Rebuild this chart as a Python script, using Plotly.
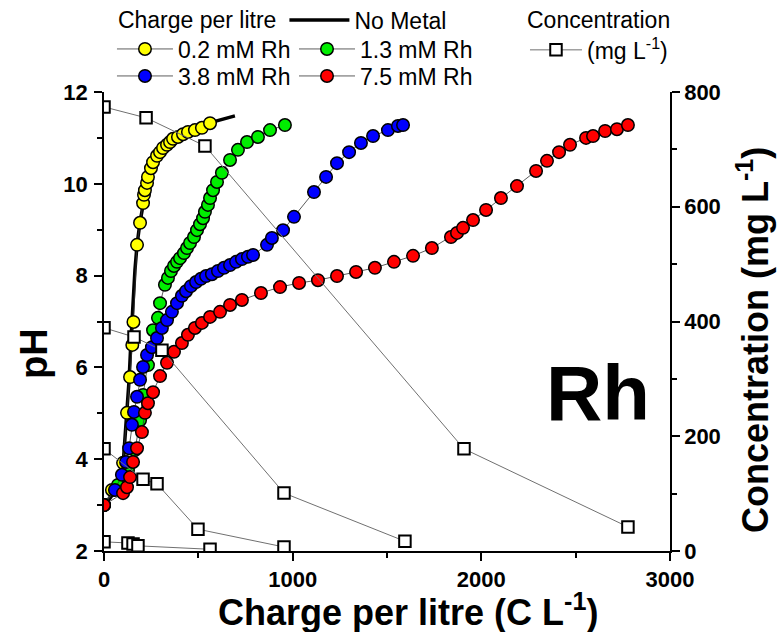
import plotly.graph_objects as go

# ---------------- data ----------------
no_metal_x = [0, 32, 64, 85, 101, 111, 122, 133, 143, 154, 164, 175, 191, 212, 244, 297, 376, 482, 588, 694]
no_metal_ph = [3.00, 3.15, 3.33, 3.54, 3.87, 4.42, 5.07, 5.73, 6.60, 7.47, 8.12, 8.67, 9.17, 9.65, 10.13, 10.63, 11.00, 11.24, 11.37, 11.48]

rh02_x = [0, 42, 101, 122, 138, 150, 156, 175, 191, 207, 212, 217, 228, 233, 249, 260, 281, 297, 313, 334, 350, 366, 392, 419, 445, 482, 519, 562]
rh02_ph = [3.00, 3.33, 3.92, 5.01, 5.79, 6.49, 6.99, 8.67, 9.15, 9.58, 9.76, 9.86, 10.02, 10.15, 10.34, 10.47, 10.61, 10.69, 10.78, 10.85, 10.91, 10.98, 11.02, 11.08, 11.13, 11.17, 11.22, 11.32]

rh13_x = [0, 74, 127, 164, 191, 207, 233, 260, 286, 297, 323, 339, 355, 371, 387, 403, 424, 440, 456, 477, 493, 509, 525, 535, 551, 562, 578, 599, 625, 668, 710, 758, 816, 880, 959]
rh13_ph = [3.00, 3.44, 3.76, 4.20, 4.85, 5.40, 6.05, 6.81, 7.08, 7.40, 7.80, 7.95, 8.10, 8.21, 8.30, 8.38, 8.49, 8.60, 8.71, 8.84, 8.99, 9.12, 9.25, 9.39, 9.54, 9.69, 9.86, 10.04, 10.24, 10.52, 10.74, 10.91, 11.02, 11.17, 11.28]

rh38_x = [0, 58, 95, 117, 133, 148, 159, 175, 191, 207, 228, 254, 281, 307, 334, 360, 387, 413, 435, 461, 488, 514, 541, 572, 604, 636, 668, 700, 731, 763, 790, 864, 890, 949, 1007, 1113, 1177, 1235, 1299, 1362, 1426, 1505, 1558, 1585]
rh38_ph = [3.00, 3.33, 3.66, 3.94, 4.24, 4.75, 5.03, 5.36, 5.73, 6.01, 6.27, 6.44, 6.64, 6.86, 7.03, 7.21, 7.40, 7.56, 7.66, 7.77, 7.86, 7.93, 7.99, 8.03, 8.10, 8.17, 8.23, 8.30, 8.36, 8.41, 8.45, 8.67, 8.82, 8.99, 9.28, 9.82, 10.15, 10.45, 10.69, 10.89, 11.04, 11.17, 11.26, 11.28]

rh75_x = [0, 101, 122, 138, 154, 175, 201, 217, 233, 260, 297, 334, 371, 413, 445, 482, 519, 562, 615, 668, 731, 832, 933, 1034, 1134, 1235, 1336, 1436, 1537, 1638, 1738, 1839, 1871, 1903, 1956, 2025, 2104, 2189, 2290, 2348, 2412, 2470, 2555, 2592, 2656, 2719, 2777]
rh75_ph = [3.00, 3.26, 3.39, 3.61, 3.94, 4.24, 4.59, 5.01, 5.22, 5.46, 5.81, 6.10, 6.34, 6.53, 6.71, 6.86, 6.97, 7.10, 7.21, 7.36, 7.47, 7.62, 7.75, 7.84, 7.90, 7.99, 8.08, 8.17, 8.30, 8.43, 8.60, 8.84, 8.93, 9.04, 9.21, 9.43, 9.69, 9.95, 10.28, 10.50, 10.69, 10.85, 11.00, 11.04, 11.15, 11.19, 11.28]

# concentration (mg/L) for each run
conc75_x = [0, 223, 535, 1908, 2777]
conc75_c = [774, 755, 706, 178, 42]
conc38_x = [0, 159, 307, 954, 1595]
conc38_c = [389, 373, 350, 101, 17]
conc13_x = [0, 207, 281, 498, 954]
conc13_c = [178, 125, 117, 38, 7]
conc02_x = [0, 127, 154, 180, 562]
conc02_c = [16, 14, 12, 9, 3]

x_ticks = [0, 1000, 2000, 3000]
ph_ticks = [2, 4, 6, 8, 10, 12]
conc_ticks = [0, 200, 400, 600, 800]

# ---------------- figure ----------------
FONT = "Liberation Sans, Arial, sans-serif"
LEG_FONT = dict(family=FONT, size=23, color="black")
fig = go.Figure()

fig.add_trace(go.Scatter(x=no_metal_x, y=no_metal_ph, mode="lines", name="No Metal",
                         line=dict(color="black", width=3.5), legend="legend"))

series = [
    ("0.2 mM Rh", rh02_x, rh02_ph, "#ffff00", "legend2"),
    ("1.3 mM Rh", rh13_x, rh13_ph, "#00ee00", "legend3"),
    ("3.8 mM Rh", rh38_x, rh38_ph, "#0000ff", "legend4"),
    ("7.5 mM Rh", rh75_x, rh75_ph, "#ff0000", "legend5"),
]
for name, xs, ys, col, lg in series:
    fig.add_trace(go.Scatter(x=xs, y=ys, mode="lines+markers", name=name, legend=lg,
                             line=dict(color="#333333", width=0.8),
                             marker=dict(size=12.5, color=col, line=dict(color="black", width=1.5))))

cx, cy = [], []
for xs, cs in [(conc75_x, conc75_c), (conc38_x, conc38_c), (conc13_x, conc13_c), (conc02_x, conc02_c)]:
    cx += xs + [None]
    cy += cs + [None]
fig.add_trace(go.Scatter(x=cx, y=cy, mode="lines+markers", name="(mg L<sup>-1</sup>)", yaxis="y2",
                         legend="legend6", connectgaps=False,
                         line=dict(color="#707070", width=1),
                         marker=dict(symbol="square", size=11.5, color="white",
                                     line=dict(color="black", width=2))))

axis_common = dict(showline=True, linecolor="black", linewidth=1.5, ticks="outside", ticklen=8,
                   tickwidth=1.5, tickcolor="black", showgrid=False, zeroline=False,
                   tickfont=dict(family=FONT, size=22, color="black", weight="bold"))


def leg(x, top_px, **kw):
    d = dict(orientation="v", x=x, y=(551 - top_px) / 459, xanchor="left", yanchor="top",
             font=LEG_FONT, bgcolor="rgba(0,0,0,0)", tracegroupgap=0, itemwidth=56)
    d.update(kw)
    return d


fig.update_layout(
    width=779, height=632,
    margin=dict(l=104, r=109, t=92, b=81, autoexpand=False),
    paper_bgcolor="white", plot_bgcolor="white",
    font=dict(family=FONT, color="black"),
    xaxis=dict(range=[0, 3000], tickvals=x_ticks,
               minor=dict(ticks="outside", ticklen=5, tickwidth=1.5, tickcolor="black", dtick=500),
               **axis_common),
    yaxis=dict(range=[2, 12], tickvals=ph_ticks, ticklabelstandoff=2,
               minor=dict(ticks="outside", ticklen=5, tickwidth=1.5, tickcolor="black", dtick=1),
               **axis_common),
    yaxis2=dict(range=[0, 800], tickvals=conc_ticks, overlaying="y", side="right",
                minor=dict(ticks="outside", ticklen=5, tickwidth=1.5, tickcolor="black", dtick=100),
                **axis_common),
    showlegend=True,
    legend=leg(0.021, -1.5, orientation="h", itemwidth=60,
               title=dict(text="Charge per litre", side="left", font=LEG_FONT)),
    legend2=leg(0.0141, 27.5),
    legend3=leg(0.3357, 27.5),
    legend4=leg(0.0141, 54.5),
    legend5=leg(0.3357, 54.5),
    legend6=leg(0.7438, -1.5, itemwidth=52,
                title=dict(text="Concentration", side="top", font=LEG_FONT)),
    annotations=[
        dict(text="Charge per litre (C L<sup>-1</sup>)", xref="paper", yref="paper",
             x=0.537, y=-0.128, xanchor="center", yanchor="middle", showarrow=False,
             font=dict(family=FONT, size=36, weight="bold")),
        dict(text="pH", xref="paper", yref="paper", x=-0.125, y=0.43, textangle=-90,
             xanchor="center", yanchor="middle", showarrow=False,
             font=dict(family=FONT, size=38, weight="bold")),
        dict(text="Concentration (mg L<sup>-1</sup>)", xref="paper", yref="paper", x=1.147, y=0.46,
             textangle=-90, xanchor="center", yanchor="middle", showarrow=False,
             font=dict(family=FONT, size=36, weight="bold")),
        dict(text="Rh", xref="paper", yref="paper", x=0.873, y=0.344, xanchor="center",
             yanchor="middle", showarrow=False, font=dict(family=FONT, size=78, weight="bold")),
    ],
)

fig.write_html("out.html")
